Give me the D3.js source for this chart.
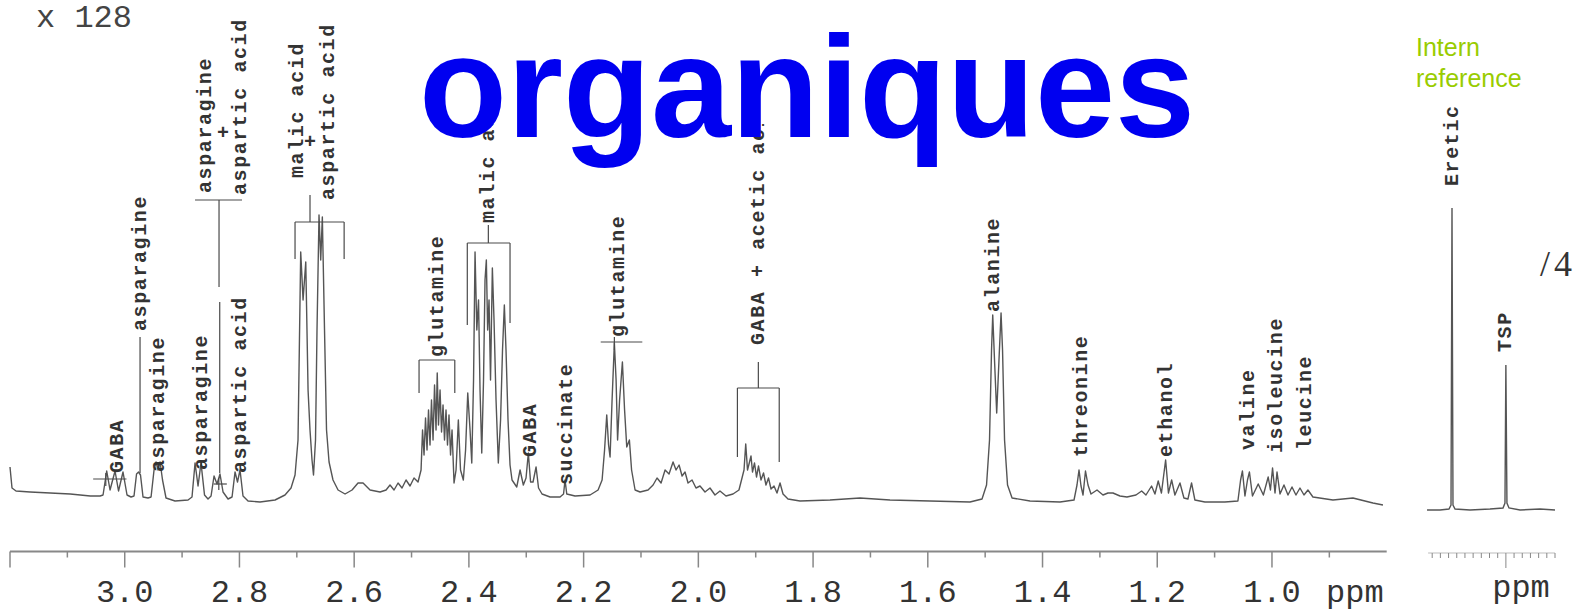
<!DOCTYPE html>
<html>
<head>
<meta charset="utf-8">
<script src="https://cdn.jsdelivr.net/npm/d3@7"></script>
<style>
  html, body { margin: 0; padding: 0; background: #fff; }
  svg { display: block; }
</style>
</head>
<body>
<svg id="chart" width="1589" height="614"></svg>
<script>
// 1H NMR spectrum, aliphatic region (x 128), with the internal references (/4)

// chemical shift (ppm) and intensity (a.u.) of the main trace
const shiftPpm = [
  3.2000, 3.1965, 3.1895, 3.1650, 3.1300, 3.0950, 3.0600, 3.0430,
  3.0378, 3.0314, 3.0256, 3.0169, 3.0108, 3.0030, 2.9960, 2.9890,
  2.9838, 2.9794, 2.9759, 2.9725, 2.9681, 2.9594,
  2.9541, 2.9489, 2.9454, 2.9419, 2.9384, 2.9341, 2.9280, 2.9123, 2.8896,
  2.8827, 2.8774, 2.8722, 2.8670, 2.8609, 2.8548,
  2.8495, 2.8443, 2.8391, 2.8339, 2.8286, 2.8199,
  2.8129, 2.8077, 2.8034, 2.7990, 2.7938, 2.7850, 2.7641, 2.7380, 2.7206, 2.7101, 2.7031,
  2.6979, 2.6932, 2.6891, 2.6844, 2.6804, 2.6770, 2.6735, 2.6709, 2.6674, 2.6648,
  2.6613, 2.6583, 2.6555, 2.6517, 2.6482, 2.6438, 2.6369, 2.6281, 2.6159, 2.6037,
  2.5933, 2.5845, 2.5723, 2.5549,
  2.5444, 2.5375, 2.5305, 2.5235, 2.5166, 2.5096, 2.5026, 2.4957, 2.4887,
  2.4834, 2.4808, 2.4782, 2.4756, 2.4730, 2.4704, 2.4678, 2.4652, 2.4625, 2.4599,
  2.4573, 2.4552, 2.4530, 2.4503, 2.4477, 2.4451, 2.4425, 2.4399, 2.4373, 2.4347,
  2.4320, 2.4294, 2.4259, 2.4224, 2.4184, 2.4146, 2.4097, 2.4058, 2.4020, 2.3980,
  2.3950, 2.3919, 2.3893, 2.3862, 2.3832, 2.3806, 2.3776, 2.3745, 2.3719, 2.3696,
  2.3673, 2.3649, 2.3623, 2.3591, 2.3562, 2.3527, 2.3487, 2.3448, 2.3414, 2.3382,
  2.3353, 2.3318, 2.3283, 2.3248, 2.3166, 2.3108, 2.3051, 2.3004, 2.2964, 2.2925,
  2.2882, 2.2829, 2.2786, 2.2725, 2.2585, 2.2411, 2.2350, 2.2324, 2.2294, 2.2149,
  2.1888, 2.1748, 2.1678, 2.1635, 2.1597, 2.1565, 2.1539, 2.1504, 2.1464, 2.1434,
  2.1408, 2.1373, 2.1324, 2.1286, 2.1248, 2.1202, 2.1164, 2.1103, 2.1016, 2.0877,
  2.0789, 2.0720, 2.0650, 2.0580, 2.0511, 2.0441, 2.0389, 2.0336, 2.0284, 2.0232,
  2.0180, 2.0110, 2.0041, 1.9971, 1.9884, 1.9797, 1.9710, 1.9623, 1.9518, 1.9396,
  1.9292, 1.9239, 1.9204, 1.9174, 1.9143, 1.9108, 1.9082, 1.9056, 1.9021, 1.8986,
  1.8951, 1.8908, 1.8864, 1.8821, 1.8777, 1.8733, 1.8681, 1.8629, 1.8576, 1.8524,
  1.8437, 1.8228, 1.7705, 1.7182, 1.6659, 1.5962, 1.5264, 1.5055,
  1.4976, 1.4924, 1.4889, 1.4868, 1.4837, 1.4799, 1.4759, 1.4723, 1.4697, 1.4662,
  1.4610, 1.4531, 1.4218, 1.3695, 1.3451,
  1.3399, 1.3364, 1.3329, 1.3294, 1.3251, 1.3207, 1.3155, 1.3050, 1.2946, 1.2859,
  1.2772, 1.2650, 1.2528, 1.2371, 1.2272, 1.2197, 1.2099, 1.2040, 1.1983, 1.1927,
  1.1854, 1.1805, 1.1749, 1.1692, 1.1604, 1.1535, 1.1465, 1.1402, 1.1344, 1.1169,
  1.0821, 1.0594, 1.0547, 1.0515, 1.0471, 1.0427, 1.0393, 1.0340, 1.0240, 1.0150,
  1.0066, 1.0027, 0.9990, 0.9947, 0.9912, 0.9860, 0.9791, 0.9721, 0.9651, 0.9582,
  0.9512, 0.9442, 0.9373, 0.9286, 0.8937, 0.8589, 0.8240, 0.8065
];
const signal = [
  43, 22, 19, 18, 17, 16, 14, 14,
  15, 39, 20, 39, 19, 38, 15, 13,
  14, 36, 38, 35, 13, 12,
  13, 40, 48, 40, 48, 30, 12, 9, 10,
  13, 47, 24, 47, 15, 11,
  14, 34, 26, 36, 18, 11,
  13, 38, 28, 40, 14, 9, 8, 10, 15, 22, 35,
  70, 258, 210, 248, 120, 80, 50, 35, 70, 180,
  295, 250, 293, 180, 80, 48, 30, 20, 16, 20,
  27, 27, 20, 18,
  20, 25, 20, 27, 22, 30, 24, 32, 28,
  40, 80, 55, 92, 60, 100, 65, 110, 70, 125,
  80, 137, 85, 120, 78, 105, 70, 100, 65, 95,
  55, 80, 27, 40, 90, 40, 30, 60, 117, 80,
  47, 130, 258, 180, 210, 120, 57, 130, 230, 250,
  180, 210, 130, 242, 190, 110, 47, 90, 160, 205,
  160, 90, 45, 30, 23, 40, 25, 32, 57, 28,
  28, 43, 22, 16, 13, 13, 16, 30, 16, 14,
  15, 20, 30, 60, 95, 65, 53, 110, 167, 130,
  70, 110, 148, 100, 63, 70, 40, 20, 18, 20,
  25, 32, 27, 40, 36, 48, 40, 45, 34, 38,
  27, 30, 22, 24, 18, 22, 15, 19, 14, 16,
  20, 32, 40, 66, 40, 48, 54, 38, 47, 33,
  44, 30, 37, 25, 32, 21, 24, 17, 27, 16,
  11, 9, 10, 12, 10, 9, 8, 11,
  25, 70, 160, 195, 150, 97, 150, 197, 160, 70,
  25, 12, 9, 8, 10,
  25, 40, 24, 15, 39, 25, 16, 20, 15, 17,
  17, 14, 13, 15, 19, 15, 24, 16, 29, 17,
  50, 17, 30, 15, 27, 12, 11, 27, 10, 8,
  8, 9, 30, 39, 14, 30, 38, 14, 26, 15,
  33, 20, 42, 17, 38, 16, 25, 15, 23, 15,
  22, 15, 20, 13, 10, 12, 7, 5
];

// reference panel trace (Eretic and TSP)
const refShiftPpm = [0.0963, 0.0805, 0.0695, 0.0670, 0.0658, 0.0646, 0.0621, 0.0438,
                     0.0194, 0.0035, 0.0011, 0.0000, -0.0013, -0.0038, -0.0173, -0.0417, -0.0600];
const refSignal   = [0, 0, 1, 5, 302, 5, 1, 0,
                     1, 2, 7, 145, 7, 2, 0, 1, 0];

// axis ticks
const tickValues = [3.2, 3.1, 3.0, 2.9, 2.8, 2.7, 2.6, 2.5, 2.4, 2.3, 2.2, 2.1, 2.0,
                    1.9, 1.8, 1.7, 1.6, 1.5, 1.4, 1.3, 1.2, 1.1, 1.0, 0.9];
const tickLabels = ["3.0", "2.8", "2.6", "2.4", "2.2", "2.0", "1.8", "1.6", "1.4", "1.2", "1.0"];
const labelledTicks = [3.0, 2.8, 2.6, 2.4, 2.2, 2.0, 1.8, 1.6, 1.4, 1.2, 1.0];
const refTickValues = [0.09, 0.08, 0.07, 0.06, 0.05, 0.04, 0.03, 0.02, 0.01, 0.00,
                       -0.01, -0.02, -0.03, -0.04, -0.05, -0.06];

// signal assignments: name and shift of the resonance it sits on
const assignNames = ["GABA", "asparagine", "asparagine", "asparagine", "aspartic acid",
                     "glutamine", "GABA", "succinate", "glutamine", "alanine",
                     "threonine", "ethanol", "valine", "isoleucine", "leucine"];
const assignPpm   = [3.0133, 2.9733, 2.9419, 2.8658, 2.7990,
                     2.4543, 2.2934, 2.2294, 2.1395, 1.4857,
                     1.3328, 1.1834, 1.0411, 0.9916, 0.9423];

// ---------------------------------------------------------------------------
const W = 1589, H = 614;
const svg = d3.select("#chart");
svg.append("rect").attr("width", W).attr("height", H).attr("fill", "#fff");

const x = d3.scaleLinear().domain([3.2, 0.8]).range([10, 1386.7]);
const y = d3.scaleLinear().domain([0, 300]).range([510, 210]);
const xr = d3.scaleLinear().domain([0.10, -0.06]).range([1424, 1555]);

const ink = "#4a4a4a";
const mono = "'Liberation Mono', 'Courier New', monospace";

// ---- spectrum traces
const main = shiftPpm.map((p, i) => ({ p, v: signal[i] }));
const line = d3.line().x(d => x(d.p)).y(d => y(d.v));
svg.append("path").datum(main).attr("d", line)
  .attr("fill", "none").attr("stroke", "#555").attr("stroke-width", 1.4)
  .attr("stroke-linejoin", "round");

const ref = refShiftPpm.map((p, i) => ({ p, v: refSignal[i] }));
const lineR = d3.line().x(d => xr(d.p)).y(d => y(d.v));
svg.append("path").datum(ref).attr("d", lineR)
  .attr("fill", "none").attr("stroke", "#555").attr("stroke-width", 1.4);

// ---- main ppm axis
const axisG = svg.append("g").attr("transform", "translate(0,551.5)");
axisG.append("line").attr("x1", x(3.2)).attr("x2", x(0.8))
  .attr("stroke", "#888").attr("stroke-width", 2);
const isMajor = v => Math.abs(Math.round(v * 10) % 2) === 0;
axisG.selectAll("line.tick").data(tickValues).join("line")
  .attr("class", "tick")
  .attr("x1", d => x(d)).attr("x2", d => x(d))
  .attr("y1", 0).attr("y2", d => isMajor(d) ? 16 : 6)
  .attr("stroke", "#888").attr("stroke-width", 1.5);
axisG.selectAll("text").data(labelledTicks).join("text")
  .attr("x", d => x(d)).attr("y", 50)
  .attr("text-anchor", "middle")
  .attr("font-family", mono).attr("font-size", 32).attr("fill", "#333")
  .text((d, i) => tickLabels[i]);
svg.append("text").attr("x", 1326).attr("y", 601.5)
  .attr("font-family", mono).attr("font-size", 32).attr("fill", "#333").text("ppm");

// ---- reference panel axis
const refAxis = svg.append("g").attr("transform", "translate(0,553)");
refAxis.append("line").attr("x1", xr(0.095)).attr("x2", xr(-0.06))
  .attr("stroke", "#bbb").attr("stroke-width", 1);
refAxis.selectAll("line.tick").data(refTickValues).join("line")
  .attr("class", "tick")
  .attr("x1", d => xr(d)).attr("x2", d => xr(d))
  .attr("y1", 0).attr("y2", d => d === 0 ? 15 : 5)
  .attr("stroke", "#888").attr("stroke-width", 1);
svg.append("text").attr("x", 1521).attr("y", 597).attr("text-anchor", "middle")
  .attr("font-family", mono).attr("font-size", 32).attr("fill", "#333").text("ppm");

// ---- vertical assignment labels
const labelFont = 20;
function vlabel(cx, yBottom, txt) {
  svg.append("text")
    .attr("transform", `translate(${cx},${yBottom}) rotate(-90)`)
    .attr("dominant-baseline", "central")
    .attr("font-family", mono).attr("font-size", labelFont)
    .attr("font-weight", "bold").attr("letter-spacing", 1.6)
    .attr("fill", "#333").text(txt);
}
function seg(x1, y1, x2, y2) {
  svg.append("line").attr("x1", x1).attr("y1", y1).attr("x2", x2).attr("y2", y2)
    .attr("stroke", ink).attr("stroke-width", 1.2);
}

// single assignments, label bottom just above its signal
const labelBottoms = [473, 331, 472, 470, 473, 357, 457, 485, 337, 312, 457, 457, 450, 453, 450];
assignNames.forEach((n, i) => vlabel(x(assignPpm[i]), labelBottoms[i], n));

// GABA marker bar (3.01 ppm)
seg(x(3.055), 479, x(2.997), 479);
seg(x(3.033), 473, x(3.033), 486);
// asparagine leader (2.97 ppm)
seg(x(2.9733), 337, x(2.9733), 473);
// small cross at 2.835 ppm
seg(x(2.845), 484, x(2.822), 484);
seg(x(2.836), 478, x(2.836), 490);

// asparagine + aspartic acid (2.84 ppm)
{
  const c = x(2.8356);
  vlabel(c - 14, 193, "asparagine");
  svg.append("text").attr("x", c + 4).attr("y", 133).attr("text-anchor", "middle")
    .attr("dominant-baseline", "central").attr("font-family", mono)
    .attr("font-size", labelFont).attr("font-weight", "bold").attr("fill", "#333").text("+");
  vlabel(c + 21, 195, "aspartic acid");
  seg(c - 24, 200, c + 23, 200);
  seg(c, 200, c, 287);
  seg(c + 0.7, 302, c + 0.7, 473);
}

// malic acid + aspartic acid (2.68 ppm)
{
  const c = x(2.677);
  vlabel(c - 13, 178, "malic acid");
  svg.append("text").attr("x", c).attr("y", 142).attr("text-anchor", "middle")
    .attr("dominant-baseline", "central").attr("font-family", mono)
    .attr("font-size", labelFont).attr("font-weight", "bold").attr("fill", "#333").text("+");
  vlabel(c + 18, 200, "aspartic acid");
  seg(c, 195, c, 222);
  seg(x(2.7031), 222, x(2.6175), 222);
  seg(x(2.7031), 222, x(2.7031), 259);
  seg(x(2.6175), 222, x(2.6175), 259);
}

// glutamine bracket (2.45 ppm)
seg(x(2.4869), 360, x(2.4246), 360);
seg(x(2.4869), 360, x(2.4869), 393);
seg(x(2.4246), 360, x(2.4246), 393);

// malic acid bracket (2.37 ppm)
{
  const c = x(2.3661);
  vlabel(c, 223, "malic acid");
  seg(c, 225, c, 243);
  seg(x(2.4028), 243, x(2.3283), 243);
  seg(x(2.4028), 243, x(2.4028), 325);
  seg(x(2.3283), 243, x(2.3283), 323);
}

// glutamine bar (2.14 ppm)
seg(x(2.1702), 342, x(2.0977), 342);
seg(x(2.1464), 337, x(2.1464), 350);

// GABA + acetic acid (1.90 ppm)
{
  const c = x(1.8954);
  vlabel(c, 345, "GABA + acetic acid");
  seg(c, 362, c, 388);
  seg(x(1.9319), 388, x(1.8590), 388);
  seg(x(1.9319), 388, x(1.9319), 457);
  seg(x(1.8590), 388, x(1.8590), 462);
}

// reference labels
vlabel(xr(0.0658), 186, "Eretic");
vlabel(xr(0.0), 352, "TSP");

// ---- scale factors
svg.append("text").attr("x", 36).attr("y", 27)
  .attr("font-family", mono).attr("font-size", 32).attr("fill", "#444")
  .attr("xml:space", "preserve").text("x 128");
svg.append("text").attr("x", 1540).attr("y", 276)
  .attr("font-family", "'Liberation Serif', 'Times New Roman', serif")
  .attr("font-size", 36).attr("fill", "#333").attr("letter-spacing", 4).text("/4");

// ---- internal reference caption
svg.append("text").attr("x", 1416).attr("y", 56)
  .attr("font-family", "'Liberation Sans', Arial, sans-serif")
  .attr("font-size", 25).attr("fill", "#99cc00").text("Intern");
svg.append("text").attr("x", 1416).attr("y", 87)
  .attr("font-family", "'Liberation Sans', Arial, sans-serif")
  .attr("font-size", 25).attr("fill", "#99cc00").text("reference");

// ---- title on its white text box
svg.append("rect").attr("x", 410).attr("y", 0).attr("width", 782).attr("height", 124)
  .attr("fill", "#fff");
svg.append("text").attr("x", 419).attr("y", 137)
  .attr("font-family", "'Liberation Sans', Arial, sans-serif")
  .attr("font-size", 144).attr("font-weight", "bold").attr("fill", "#0000f0")
  .text("organiques");
</script>
</body>
</html>
